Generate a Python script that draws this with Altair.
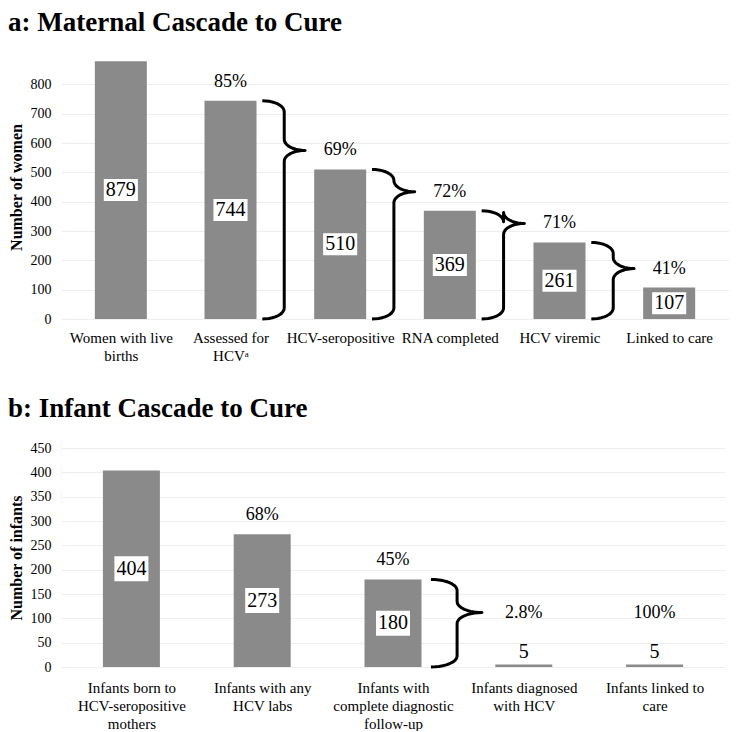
import altair as alt
import pandas as pd
import json
import math

FONT = "Liberation Serif"
BAR_COLOR = "#898a89"

# ---------------- data ----------------
a_labels = ["Women with live\nbirths", "Assessed for\nHCVᵃ", "HCV-seropositive",
            "RNA completed", "HCV viremic", "Linked to care"]
a_values = [879, 744, 510, 369, 261, 107]
a_pct = ["", "85%", "69%", "72%", "71%", "41%"]
a_braces = [1, 2, 3, 4]          # brace drawn from this bar to the next one
a_yticks = [0, 100, 200, 300, 400, 500, 600, 700, 800]

b_labels = ["Infants born to\nHCV-seropositive\nmothers", "Infants with any\nHCV labs",
            "Infants with\ncomplete diagnostic\nfollow-up", "Infants diagnosed\nwith HCV",
            "Infants linked to\ncare"]
b_values = [404, 273, 180, 5, 5]
b_pct = ["", "68%", "45%", "2.8%", "100%"]
b_braces = [2]
b_yticks = [0, 50, 100, 150, 200, 250, 300, 350, 400, 450]


def panel(title, ytitle, labels, values, pcts, braces, ymax, yticks,
          width, height, bar_px, box_shape, box_size, label_pad):
    n = len(values)
    upp = ymax / height  # data units per pixel
    rows = []
    for i, (v, p) in enumerate(zip(values, pcts)):
        small = v / upp < 30
        rows.append(dict(
            i=i, v=v, pct=p, vtxt=str(v), boxed=not small,
            val_y=(v + 13 * upp) if small else v / 2,
            pct_y=v + (52 if small else 19) * upp,
        ))
    df = pd.DataFrame(rows)

    # brace geometry derived from the bar values
    pts = []
    c = 11 * upp
    m = 10
    for b in braces:
        top = values[b]
        tip = rows[b + 1]["pct_y"]
        x0, x1, x2 = b + 0.29, b + 0.49, b + 0.68
        rx, rx2 = x1 - x0, x2 - x1
        seq = []
        for k in range(m + 1):
            f = math.pi / 2 * k / m
            seq.append((x0 + rx * math.sin(f), top - c + c * math.cos(f)))
        for k in range(m + 1):
            f = math.pi / 2 * k / m
            seq.append((x2 - rx2 * math.cos(f), tip + c - c * math.sin(f)))
        for k in range(m + 1):
            f = math.pi / 2 * k / m
            seq.append((x2 - rx2 * math.sin(f), tip - c + c * math.cos(f)))
        for k in range(m + 1):
            f = math.pi / 2 * k / m
            seq.append((x0 + rx * math.cos(f), c - c * math.sin(f)))
        for k, (x, y) in enumerate(seq):
            pts.append(dict(brace=b, k=k, x=x, y=y))
    bdf = pd.DataFrame(pts)

    label_lines = [l.split("\n") for l in labels]
    label_expr = json.dumps(label_lines, ensure_ascii=False) + "[round(datum.value)]"

    xscale = alt.Scale(domain=[-0.5, n - 0.5], nice=False, zero=False)
    yscale = alt.Scale(domain=[0, ymax], nice=False)
    xaxis = alt.Axis(values=list(range(n)), labelExpr=label_expr, title=None,
                     grid=False, ticks=False, domain=False, labelFont=FONT,
                     labelFontSize=15, labelColor="black", labelPadding=label_pad,
                     labelLineHeight=18, labelOverlap=False, labelFlush=False,
                     labelBaseline="top")
    yaxis = alt.Axis(values=yticks, title=ytitle, grid=True, gridColor="#eeeeee",
                     ticks=False, domain=False, labelFont=FONT, labelFontSize=14,
                     labelColor="black", labelPadding=10, titleFont=FONT,
                     titleFontSize=16, titleFontWeight="bold", titleColor="black",
                     titlePadding=6)

    def X(f):
        return alt.X(f, type="quantitative", scale=xscale, axis=xaxis)

    def Y(f):
        return alt.Y(f, type="quantitative", scale=yscale, axis=yaxis)

    base = alt.Chart(df)
    bars = base.mark_bar(size=bar_px, color=BAR_COLOR).encode(x=X("i"), y=Y("v"))
    boxes = base.transform_filter("datum.boxed").mark_point(
        shape=box_shape, size=box_size, filled=True, color="white", opacity=1,
        strokeWidth=0).encode(x=X("i"), y=Y("val_y"))
    vals = base.mark_text(font=FONT, fontSize=20, color="black", baseline="middle").encode(
        x=X("i"), y=Y("val_y"), text="vtxt:N")
    pcts_t = base.transform_filter("datum.pct != ''").mark_text(
        font=FONT, fontSize=18, color="black", baseline="middle").encode(
        x=X("i"), y=Y("pct_y"), text="pct:N")
    brace = alt.Chart(bdf).mark_line(color="black", strokeWidth=3, strokeJoin="round").encode(
        x=X("x"), y=Y("y"), detail="brace:N", order="k:Q")

    return alt.layer(bars, boxes, vals, pcts_t, brace).properties(
        width=width, height=height,
        title=alt.TitleParams(title, anchor="start", frame="bounds", font=FONT,
                              fontSize=27, fontWeight="bold", color="black", offset=18),
    )


pa = panel("a: Maternal Cascade to Cure", "Number of women", a_labels, a_values, a_pct,
           a_braces, 900, a_yticks, 668, 264, 52, "M-1.55,-1L1.55,-1L1.55,1L-1.55,1Z", 484, 11)
pb = panel("b: Infant Cascade to Cure", "Number of infants", b_labels, b_values, b_pct,
           b_braces, 450, b_yticks, 664, 219, 57, "M-1.36,-1L1.36,-1L1.36,1L-1.36,1Z", 625, 13)

chart = alt.vconcat(pa, pb, spacing=32).properties(
    padding={"left": 0, "top": 1, "right": 0, "bottom": 0}
).configure_view(stroke=None)

chart.save("out.html", embed_options={"renderer": "svg", "actions": False})
